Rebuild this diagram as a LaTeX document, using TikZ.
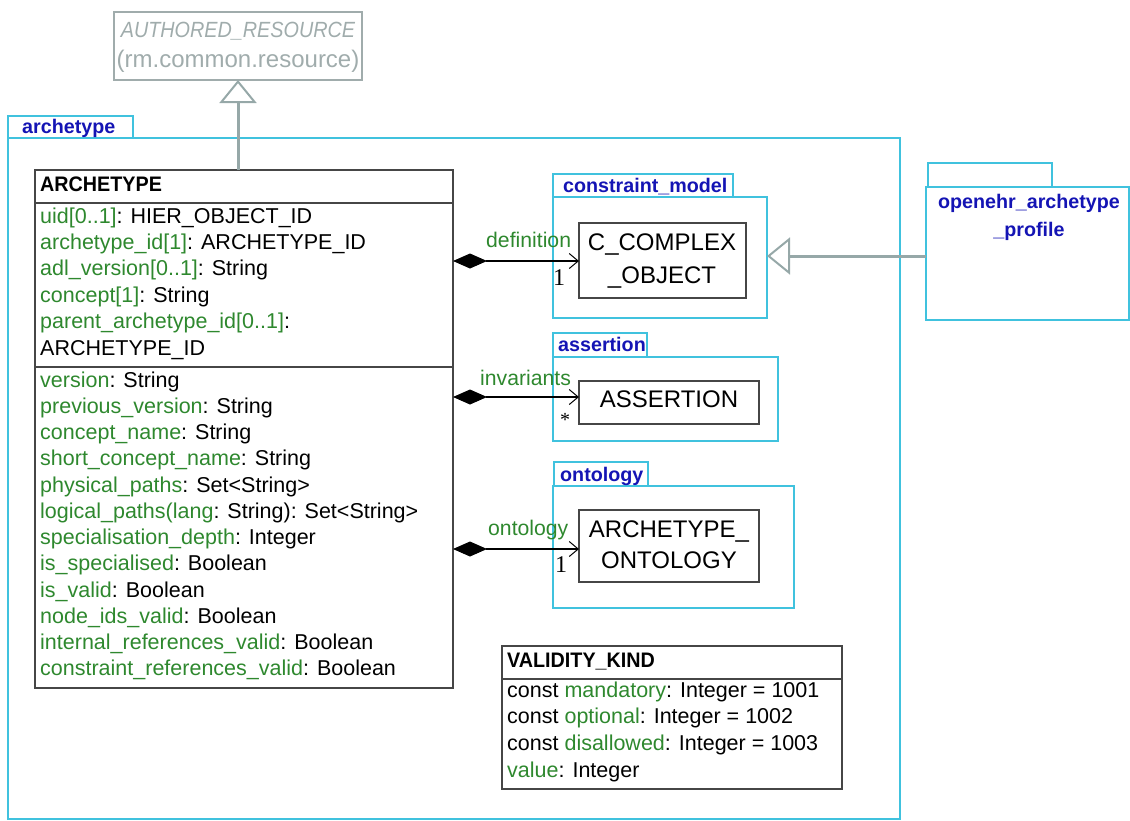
\documentclass[tikz,border=0pt]{standalone}
\usepackage{fontspec}
\usepackage{graphicx}
\setmainfont{Liberation Sans}
\newfontfamily\mulfont{Liberation Serif}
\usetikzlibrary{arrows.meta}

\definecolor{pkgline}{RGB}{64,194,222}
\definecolor{pkgname}{RGB}{20,20,180}
\definecolor{attrgreen}{RGB}{46,136,46}
\definecolor{basegray}{RGB}{160,172,172}
\definecolor{genline}{RGB}{150,168,168}
\definecolor{clsline}{RGB}{70,70,70}

% green attribute name followed by its black type
\newcommand\gattr[2]{\textcolor{attrgreen}{#1}#2}
% rectangle node given by its corners: style, name, x1, y1, x2, y2
\newcommand\rbox[6]{\node[#1, inner sep=0, outer sep=0, minimum width={#5-#3}, minimum height={#6-#4}, anchor=north west] (#2) at (#3,#4) {};}

\tikzset{
  pkg/.style={draw=pkgline, line width=2pt},
  cls/.style={draw=clsline, line width=1.3pt},
  basecls/.style={draw=basegray, line width=1.5pt},
  attr/.style={anchor=base west, inner sep=0, font=\fontsize{21.5}{26}\selectfont},
  clsname/.style={anchor=base west, inner sep=0, font=\fontsize{21}{24}\selectfont\bfseries},
  bigname/.style={anchor=base, inner sep=0, font=\fontsize{24}{28}\selectfont},
  pkgname/.style={inner sep=0, text=pkgname, font=\fontsize{19.7}{24}\selectfont\bfseries},
  rolelabel/.style={anchor=base west, inner sep=0, text=attrgreen, font=\fontsize{21.2}{26}\selectfont},
  mult/.style={anchor=base west, inner sep=0, font=\fontsize{24}{26}\selectfont\mulfont},
  assoc/.style={line width=1.1pt, {Diamond[length=34pt,width=15pt,fill=black]}-{Straight Barb[length=9pt,width=15pt,line width=1pt]}},
  gen/.style={draw=genline, line width=3pt, -{Triangle[open,length=23pt,width=37pt,line width=2pt]}},
}

\begin{document}
\begin{tikzpicture}[x=1pt,y=-1pt]
\useasboundingbox (0,0) rectangle (1130,820);

% packages
\rbox{pkg}{archtab}{8}{116}{133}{138}
\rbox{pkg}{archpkg}{8}{138}{900}{819}
\node[pkgname, anchor=base west] (archlbl) at (22,133) {archetype};

\rbox{pkg}{cmtab}{553}{174}{733}{197}
\rbox{pkg}{cmpkg}{553}{197}{767}{318}
\node[pkgname, anchor=base west] (cmlbl) at (563,192) {constraint\_model};

\rbox{pkg}{astab}{553}{333}{647}{357}
\rbox{pkg}{aspkg}{553}{357}{778}{441}
\node[pkgname, anchor=base west] (aslbl) at (558,351) {assertion};

\rbox{pkg}{ontab}{554}{462}{648}{486}
\rbox{pkg}{onpkg}{553}{486}{794}{608}
\node[pkgname, anchor=base west] (onlbl) at (560,481) {ontology};

\rbox{pkg}{proftab}{928}{163}{1052}{187}
\rbox{pkg}{profpkg}{926}{187}{1129}{320}
\node[pkgname, anchor=base] (proflbl1) at (1029,208) {openehr\_archetype};
\node[pkgname, anchor=base] (proflbl2) at (1029,236) {\_profile};

% inherited class from the reference model
\rbox{basecls}{authored}{114}{12}{362}{80}
\node[bigname, text=basegray, font=\fontsize{22}{26}\selectfont\itshape] (arn1) at (238,37) {\scalebox{0.9}[1]{AUTHORED\_RESOURCE}};
\node[bigname, text=basegray] (arn2) at (238,67) {(rm.common.resource)};

% ARCHETYPE class
\rbox{cls}{arch}{35}{170}{453}{688}
\draw[cls] (arch.west |- 0,203) -- (arch.east |- 0,203);
\draw[cls] (arch.west |- 0,367) -- (arch.east |- 0,367);
\node[clsname] (archname) at (40,191) {\scalebox{0.94}[1]{ARCHETYPE}};
\foreach \t [count=\i from 0] in {
  {\gattr{uid[0..1]}{: HIER\_OBJECT\_ID}},
  {\gattr{archetype\_id[1]}{: ARCHETYPE\_ID}},
  {\gattr{adl\_version[0..1]}{: String}},
  {\gattr{concept[1]}{: String}},
  {\gattr{parent\_archetype\_id[0..1]}{:}},
  {ARCHETYPE\_ID}}
  \node[attr] (attA\i) at (40,{223+26.4*\i}) {\t};
\foreach \t [count=\i from 0] in {
  {\gattr{version}{: String}},
  {\gattr{previous\_version}{: String}},
  {\gattr{concept\_name}{: String}},
  {\gattr{short\_concept\_name}{: String}},
  {\gattr{physical\_paths}{: Set<String>}},
  {\gattr{logical\_paths(lang}{: String): Set<String>}},
  {\gattr{specialisation\_depth}{: Integer}},
  {\gattr{is\_specialised}{: Boolean}},
  {\gattr{is\_valid}{: Boolean}},
  {\gattr{node\_ids\_valid}{: Boolean}},
  {\gattr{internal\_references\_valid}{: Boolean}},
  {\gattr{constraint\_references\_valid}{: Boolean}}}
  \node[attr] (attB\i) at (40,{387+26.27*\i}) {\t};

% classes of the sub-packages
\rbox{cls}{ccx}{579}{223}{746}{298}
\node[bigname] (ccx1) at (662,250) {C\_COMPLEX};
\node[bigname] (ccx2) at (662,283) {\_OBJECT};

\rbox{cls}{asrt}{579}{381}{759}{424}
\node[bigname] (asrt1) at (669,407) {ASSERTION};

\rbox{cls}{onto}{579}{510}{759}{582}
\node[bigname] (onto1) at (669,537) {ARCHETYPE\_};
\node[bigname] (onto2) at (669,568) {ONTOLOGY};

% VALIDITY_KIND enumeration
\rbox{cls}{vk}{502}{646}{842}{789}
\draw[cls] (vk.west |- 0,679) -- (vk.east |- 0,679);
\node[clsname] (vkname) at (507,667) {\scalebox{0.94}[1]{VALIDITY\_KIND}};
\foreach \t [count=\i from 0] in {
  {const \gattr{mandatory}{: Integer = 1001}},
  {const \gattr{optional}{: Integer = 1002}},
  {const \gattr{disallowed}{: Integer = 1003}},
  {\gattr{value}{: Integer}}}
  \node[attr] (vkA\i) at (507,{697+26.67*\i}) {\t};

% composition associations
\draw[assoc] (arch.east |- 0,261) -- (ccx.west |- 0,261);
\node[rolelabel] (defl) at (486,247) {definition};
\node[mult] (defm) at (553,285) {1};

\draw[assoc] (arch.east |- 0,397) -- (asrt.west |- 0,397);
\node[rolelabel] (invl) at (480,385) {invariants};
\node[mult, font=\fontsize{20}{22}\selectfont\mulfont] (invm) at (560,426) {*};

\draw[assoc] (arch.east |- 0,549) -- (onto.west |- 0,549);
\node[rolelabel] (ontl) at (488,535) {ontology};
\node[mult] (ontm) at (555,572) {1};

% generalisations
\draw[gen] (authored.south |- arch.north) -- (authored.south);
\draw[gen] (profpkg.west |- 0,256) -- (cmpkg.east |- 0,256);
\end{tikzpicture}
\end{document}
